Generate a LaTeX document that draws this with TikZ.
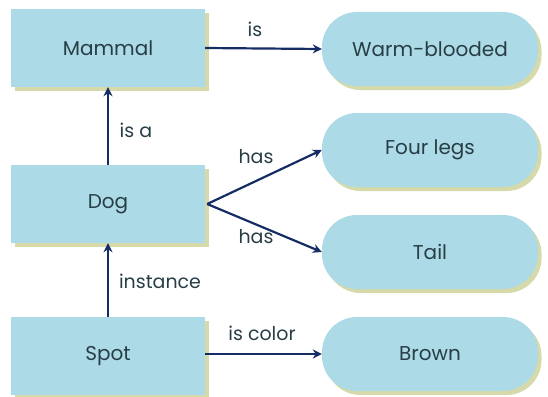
\documentclass[tikz,border=0pt]{standalone}
\usepackage{fontspec}
\setmainfont{Poppins}
\usetikzlibrary{shadows,arrows.meta}
\definecolor{boxfill}{RGB}{172,218,230}
\definecolor{shadowc}{RGB}{200,204,140}
\definecolor{arrowc}{RGB}{22,44,100}
\definecolor{textc}{RGB}{40,62,70}
\begin{document}
\begin{tikzpicture}[x=1pt,y=1pt,
  sq/.style={rectangle, fill=boxfill, minimum width=194pt, minimum height=78pt,
    text=textc, font=\fontsize{20}{22}\selectfont,
    drop shadow={shadow xshift=3.5pt, shadow yshift=-4pt, fill=shadowc, opacity=0.75}},
  pill/.style={rectangle, rounded corners=35pt, fill=boxfill, minimum width=216pt, minimum height=74pt,
    text=textc, font=\fontsize{20}{22}\selectfont,
    drop shadow={shadow xshift=3.5pt, shadow yshift=-4pt, fill=shadowc, opacity=0.75}},
  rel/.style={draw=arrowc, line width=2.2pt, -{Stealth[length=9pt,width=9pt]}},
  lbl/.style={text=textc, font=\fontsize{19}{21}\selectfont}]
\useasboundingbox (0,0) rectangle (548,-396);
\node[sq] (mammal) at (108,-48) {Mammal};
\node[sq] (dog) at (108,-204) {Dog};
\node[sq] (spot) at (108,-356) {Spot};
\node[pill] (warm) at (430,-49) {Warm-blooded};
\node[pill] (legs) at (430,-150) {Four legs};
\node[pill] (tail) at (430,-252) {Tail};
\node[pill] (brown) at (430,-354) {Brown};
\coordinate (dogE) at ([xshift=2pt]dog.east);
\draw[rel] (mammal.east) -- (warm.west);
\draw[rel] (dog.north) -- (mammal.south);
\draw[rel] (spot.north) -- (dog.south);
\draw[rel] (dogE) -- (legs.west);
\draw[rel] (dogE) -- (tail.west);
\draw[rel] (spot.east |- brown.west) -- (brown.west);
\node[lbl] (lis) at (255,-29) {is};
\node[lbl] (lisa) at (136,-130) {is a};
\node[lbl] (lhas1) at (256,-157) {has};
\node[lbl] (lhas2) at (256,-237) {has};
\node[lbl] (linst) at (160,-281) {instance};
\node[lbl] (lcol) at (262,-333) {is color};
\end{tikzpicture}
\end{document}
